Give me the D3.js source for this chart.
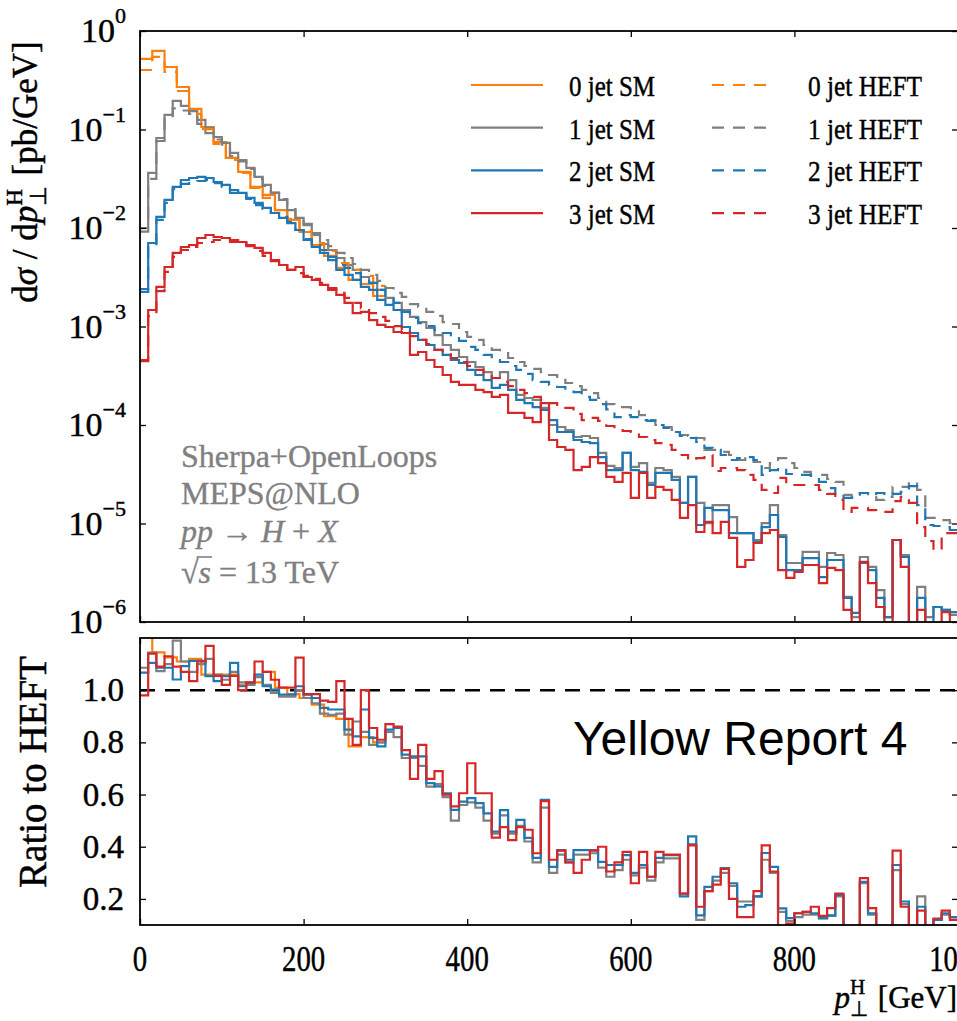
<!DOCTYPE html>
<html><head><meta charset="utf-8">
<script src="https://cdn.jsdelivr.net/npm/d3@7"></script>
<style>body{margin:0;background:#fff;}svg{display:block;}text{font-family:"Liberation Serif","Times New Roman",serif;}
.bold{stroke:#000;stroke-width:0.45px;}
.gbold{stroke:#808080;stroke-width:0.35px;}</style>
</head><body>
<svg id="chart" width="957" height="1021"></svg>
<script>
// ---------------- DATA ----------------
const binWidth0 = 15;   // GeV, 0-jet histograms
const binWidth = 10;    // GeV, 1/2/3-jet histograms
const xTicks = [0, 200, 400, 600, 800, 1000];
const yTickExp = [0, -1, -2, -3, -4, -5, -6];
const ratioTicks = [0.2, 0.4, 0.6, 0.8, 1.0];
const legendSM = ["0 jet SM", "1 jet SM", "2 jet SM", "3 jet SM"];
const legendHEFT = ["0 jet HEFT", "1 jet HEFT", "2 jet HEFT", "3 jet HEFT"];
const notes = ["Sherpa+OpenLoops", "MEPS@NLO"];

const sm0 = [0.52,0.627,0.431,0.270,0.162,0.106,0.0746,0.0514,0.0371,0.0261,0.0217,0.0152,0.0121,9.11e-3,6.72e-3,5.20e-3,3.93e-3,2.97e-3,2.70e-3,2.04e-3];
const heft0 = [0.402,0.545,0.384,0.246,0.144,0.101,0.0713,0.049,0.0362,0.0255,0.0202,0.0152,0.0124,9.32e-3,7.04e-3,5.85e-3,4.41e-3,3.75e-3,3.26e-3,2.58e-3];
const ratio0 = [1.3,1.145,1.126,1.11,1.12,1.06,1.06,1.06,1.02,1.03,1.07,1.01,0.985,0.97,0.945,0.90,0.89,0.785,0.82,0.80];

const sm1 = [1.00e-2,3.62e-2,8.20e-2,0.141,0.195,0.174,0.154,0.125,0.104,8.39e-2,
 7.30e-2,5.78e-2,4.90e-2,4.07e-2,3.30e-2,2.74e-2,2.27e-2,1.93e-2,1.52e-2,1.27e-2,
 1.07e-2,8.49e-3,6.88e-3,5.98e-3,4.96e-3,4.21e-3,3.75e-3,3.18e-3,2.77e-3,2.35e-3,
 1.95e-3,1.74e-3,1.47e-3,1.25e-3,1.11e-3,9.65e-4,8.19e-4,6.49e-4,5.78e-4,4.90e-4,
 4.36e-4,3.88e-4,3.45e-4,3.00e-4,3.45e-4,2.86e-4,2.02e-4,1.88e-4,1.80e-4,1.49e-4,
 1.00e-4,9.54e-5,8.90e-5,7.55e-5,7.73e-5,7.38e-5,5.20e-5,3.84e-5,3.66e-5,5.20e-5,
 3.75e-5,4.11e-5,2.58e-5,3.66e-5,3.49e-5,2.97e-5,1.62e-5,2.97e-5,1.62e-5,1.01e-5,
 1.54e-5,1.54e-5,1.16e-5,8.0e-6,8.0e-6,6.8e-6,1.01e-5,1.54e-5,7.64e-6,3.97e-6,
 3.97e-6,5.14e-6,5.14e-6,3.62e-6,5.02e-6,4.79e-6,1.80e-6,1.12e-6,4.57e-6,3.62e-6,
 2.11e-6,1.12e-6,6.8e-6,4.79e-6,6e-7,2.27e-6,1.12e-6,1.42e-6,1.33e-6,1.18e-6];
const heft1 = [9.2e-3,3.16e-2,7.64e-2,0.128,0.164,0.156,0.144,0.114,9.2e-2,7.92e-2,
 7.0e-2,5.38e-2,4.75e-2,3.97e-2,3.14e-2,2.67e-2,2.29e-2,1.97e-2,1.56e-2,1.27e-2,
 1.10e-2,8.9e-3,7.55e-3,6.56e-3,5.58e-3,4.96e-3,4.31e-3,3.75e-3,3.34e-3,2.90e-3,
 2.46e-3,2.19e-3,2.0e-3,1.69e-3,1.58e-3,1.41e-3,1.28e-3,1.11e-3,1.06e-3,8.79e-4,
 7.83e-4,7.30e-4,6.49e-4,5.78e-4,5.51e-4,4.79e-4,4.36e-4,3.97e-4,3.71e-4,3.45e-4,
 3.22e-4,3.0e-4,2.67e-4,2.48e-4,2.27e-4,2.11e-4,1.88e-4,1.63e-4,1.52e-4,1.52e-4,
 1.42e-4,1.26e-4,1.12e-4,1.0e-4,9.54e-5,8.9e-5,7.92e-5,7.73e-5,7.38e-5,5.58e-5,
 5.58e-5,5.33e-5,4.96e-5,4.41e-5,4.73e-5,4.21e-5,3.66e-5,4.11e-5,4.62e-5,4.11e-5,
 3.66e-5,3.34e-5,3.11e-5,3.11e-5,2.83e-5,2.64e-5,1.95e-5,1.86e-5,2.04e-5,1.86e-5,
 1.74e-5,1.86e-5,2.35e-5,2.35e-5,2.64e-5,2.19e-5,1.14e-5,1.14e-5,1.08e-5,1.01e-5];
const ratio1 = [1.086,1.144,1.073,1.10,1.19,1.11,1.07,1.10,1.12,1.06,
 1.04,1.07,1.03,1.02,1.05,1.02,0.99,0.975,0.975,1.0,
 0.97,0.95,0.91,0.905,0.91,0.83,0.88,0.84,0.79,0.80,
 0.84,0.82,0.74,0.74,0.71,0.63,0.64,0.59,0.50,0.56,
 0.57,0.55,0.50,0.45,0.52,0.45,0.48,0.42,0.34,0.55,
 0.30,0.37,0.34,0.37,0.37,0.375,0.32,0.285,0.31,0.35,
 0.29,0.32,0.27,0.34,0.355,0.355,0.22,0.41,0.12,0.23,
 0.27,0.30,0.25,0.19,0.19,0.21,0.35,0.30,0.15,0.115,
 0.13,0.14,0.14,0.125,0.135,0.21,0.08,0.08,0.26,0.14,
 0.08,0.08,0.31,0.18,0.08,0.21,0.08,0.12,0.14,0.13];

const sm2 = [2.40e-3,7.04e-3,1.30e-2,1.93e-2,2.61e-2,3.07e-2,3.22e-2,3.30e-2,3.22e-2,2.93e-2,
 2.74e-2,2.43e-2,2.27e-2,2.02e-2,1.80e-2,1.60e-2,1.42e-2,1.27e-2,1.12e-2,9.54e-3,
 7.55e-3,6.41e-3,5.58e-3,4.73e-3,3.75e-3,3.34e-3,2.97e-3,2.52e-3,2.35e-3,1.86e-3,
 1.66e-3,1.47e-3,9.88e-4,8.59e-4,7.30e-4,6.49e-4,5.78e-4,5.14e-4,4.57e-4,4.26e-4,
 3.62e-4,3.22e-4,2.86e-4,2.38e-4,2.55e-4,2.27e-4,1.80e-4,1.67e-4,1.52e-4,1.42e-4,
 1.12e-4,8.49e-5,8.49e-5,7.04e-5,6.72e-5,6.56e-5,4.73e-5,3.49e-5,3.49e-5,5.20e-5,
 3.49e-5,3.34e-5,2.46e-5,3.26e-5,3.26e-5,2.77e-5,1.62e-5,2.97e-5,9.65e-6,1.44e-5,
 1.37e-5,1.37e-5,8.0e-6,8.0e-6,8.0e-6,6.49e-6,9.2e-6,1.22e-5,7.30e-6,3.37e-6,
 3.37e-6,4.46e-6,4.46e-6,2.86e-6,4.26e-6,4.26e-6,1.76e-6,1.24e-6,3.97e-6,3.37e-6,
 1.76e-6,1.12e-6,6.8e-6,4.57e-6,6e-7,1.76e-6,6e-7,1.42e-6,1.33e-6,1.26e-6];
const heft2 = [2.24e-3,6.41e-3,1.21e-2,1.80e-2,2.48e-2,2.80e-2,2.93e-2,3.0e-2,3.07e-2,2.86e-2,
 2.61e-2,2.27e-2,2.22e-2,1.97e-2,1.71e-2,1.56e-2,1.42e-2,1.30e-2,1.15e-2,9.54e-3,
 7.73e-3,6.56e-3,5.98e-3,5.08e-3,4.21e-3,3.93e-3,3.49e-3,2.90e-3,2.77e-3,2.35e-3,
 2.0e-3,1.74e-3,1.41e-3,1.22e-3,1.08e-3,1.01e-3,9.2e-4,8.59e-4,7.83e-4,7.13e-4,
 6.20e-4,5.78e-4,5.14e-4,4.57e-4,4.36e-4,3.97e-4,3.62e-4,3.30e-4,2.86e-4,2.74e-4,
 2.55e-4,2.43e-4,2.27e-4,2.16e-4,1.93e-4,1.80e-4,1.63e-4,1.44e-4,1.20e-4,1.26e-4,
 1.20e-4,1.12e-4,1.10e-4,1.0e-4,9.32e-5,8.49e-5,7.73e-5,7.38e-5,6.72e-5,5.85e-5,
 5.58e-5,4.96e-5,4.41e-5,4.62e-5,4.73e-5,4.41e-5,3.11e-5,3.49e-5,3.66e-5,3.18e-5,
 3.11e-5,3.11e-5,3.04e-5,2.64e-5,2.29e-5,1.95e-5,1.82e-5,1.82e-5,2.04e-5,1.95e-5,
 2.04e-5,1.95e-5,2.0e-5,2.09e-5,2.40e-5,1.54e-5,9.65e-6,9.43e-6,9.2e-6,8.59e-6];
const ratio2 = [1.067,1.105,1.086,1.086,1.041,1.092,1.112,1.112,1.054,1.035,
 1.054,1.105,1.015,1.028,1.06,1.015,1.002,0.983,0.983,1.015,
 0.983,0.97,0.932,0.926,0.926,0.849,0.823,0.926,0.817,0.785,
 0.849,0.855,0.753,0.746,0.746,0.644,0.631,0.605,0.541,0.573,
 0.586,0.567,0.528,0.458,0.54,0.458,0.503,0.434,0.357,0.58,
 0.323,0.387,0.35,0.387,0.387,0.387,0.342,0.33,0.33,0.368,
 0.30,0.33,0.285,0.357,0.368,0.368,0.21,0.44,0.137,0.246,
 0.285,0.318,0.26,0.17,0.176,0.21,0.376,0.323,0.164,0.126,
 0.145,0.15,0.145,0.126,0.137,0.215,0.08,0.08,0.265,0.145,
 0.08,0.08,0.33,0.19,0.08,0.17,0.08,0.12,0.145,0.13];

const sm3 = [4.46e-4,1.47e-3,2.52e-3,4.02e-3,5.58e-3,6.41e-3,6.72e-3,7.92e-3,8.49e-3,8.10e-3,
 7.92e-3,7.55e-3,7.21e-3,6.72e-3,6.27e-3,5.58e-3,4.73e-3,4.21e-3,3.75e-3,4.02e-3,
 3.18e-3,2.97e-3,2.64e-3,2.35e-3,2.09e-3,1.74e-3,1.37e-3,1.41e-3,1.16e-3,1.04e-3,
 9.88e-4,8.79e-4,8.59e-4,5.14e-4,5.51e-4,4.57e-4,3.88e-4,3.22e-4,2.74e-4,2.55e-4,
 2.55e-4,2.27e-4,2.16e-4,1.93e-4,2.02e-4,1.33e-4,1.33e-4,1.18e-4,1.07e-4,1.67e-4,
 7.04e-5,5.98e-5,5.58e-5,3.49e-5,3.75e-5,4.73e-5,4.11e-5,2.97e-5,2.64e-5,3.26e-5,
 1.82e-5,3.26e-5,1.82e-5,2.35e-5,2.19e-5,1.74e-5,1.14e-5,1.54e-5,8.2e-6,1.04e-5,
 8.0e-6,1.04e-5,7.13e-6,3.62e-6,4.26e-6,6.34e-6,8.0e-6,8.59e-6,3.37e-6,2.80e-6,
 3.22e-6,3.79e-6,3.79e-6,2.48e-6,3.54e-6,3.37e-6,1.33e-6,6e-7,4.07e-6,2.48e-6,
 1.42e-6,6e-7,6.8e-6,3.62e-6,6e-7,1.33e-6,6e-7,6e-7,1.26e-6,9.3e-7];
const heft3 = [4.57e-4,1.28e-3,2.29e-3,3.58e-3,5.08e-3,5.98e-3,6.41e-3,7.04e-3,7.21e-3,7.55e-3,
 7.73e-3,7.21e-3,7.04e-3,6.56e-3,5.85e-3,5.20e-3,4.62e-3,4.21e-3,3.75e-3,3.49e-3,
 3.26e-3,3.04e-3,2.77e-3,2.46e-3,2.19e-3,1.95e-3,1.74e-3,1.54e-3,1.37e-3,1.25e-3,
 1.14e-3,1.01e-3,9.2e-4,8.0e-4,7.30e-4,6.64e-4,5.78e-4,5.38e-4,4.79e-4,4.36e-4,
 3.97e-4,3.62e-4,3.30e-4,3.0e-4,2.74e-4,2.48e-4,2.27e-4,2.11e-4,1.93e-4,1.80e-4,
 1.67e-4,1.60e-4,1.49e-4,1.30e-4,1.12e-4,1.18e-4,1.10e-4,9.77e-5,8.9e-5,8.69e-5,
 8.49e-5,7.55e-5,7.04e-5,6.56e-5,6.27e-5,5.58e-5,4.96e-5,4.41e-5,4.62e-5,4.96e-5,
 3.41e-5,3.66e-5,3.66e-5,3.49e-5,3.11e-5,2.77e-5,2.19e-5,2.04e-5,2.90e-5,2.46e-5,
 2.46e-5,2.46e-5,2.46e-5,2.19e-5,2.0e-5,1.74e-5,1.31e-5,1.44e-5,1.44e-5,1.37e-5,
 1.31e-5,1.31e-5,1.69e-5,1.86e-5,1.62e-5,9.2e-6,6.64e-6,5.38e-6,8.0e-6,8.0e-6];
const ratio3 = [0.98,1.14,1.09,1.13,1.09,1.07,1.035,1.11,1.17,1.055,
 1.02,1.055,1.0,1.03,1.11,1.07,1.04,1.01,1.01,1.125,
 0.985,0.985,0.96,0.955,1.035,0.89,0.79,1.0,0.855,0.81,
 0.87,0.86,0.77,0.66,0.79,0.66,0.69,0.6,0.555,0.605,
 0.72,0.605,0.605,0.435,0.475,0.425,0.475,0.465,0.375,0.575,
 0.35,0.385,0.34,0.3,0.35,0.385,0.4,0.305,0.34,0.38,
 0.26,0.38,0.285,0.38,0.37,0.37,0.22,0.405,0.17,0.23,
 0.255,0.315,0.2,0.13,0.13,0.23,0.405,0.305,0.08,0.105,
 0.145,0.15,0.17,0.135,0.165,0.22,0.08,0.08,0.28,0.165,
 0.08,0.08,0.385,0.17,0.08,0.155,0.08,0.125,0.155,0.12];

const colors = ["#ff7f0e", "#7f7f7f", "#1f77b4", "#d62728"];

// ---------------- LAYOUT ----------------
const svg = d3.select("#chart");
const L = 140, R = 958, T1 = 31, B1 = 622, T2 = 638, B2 = 925;
const x = d3.scaleLinear().domain([0, 1000]).range([L, R]);
const y = d3.scaleLog().domain([1e-6, 1]).range([B1, T1]);
const yr = d3.scaleLinear().domain([0.1, 1.2]).range([B2, T2]);

const defs = svg.append("defs");
defs.append("clipPath").attr("id", "c1").append("rect").attr("x", L).attr("y", T1).attr("width", R - L).attr("height", B1 - T1);
defs.append("clipPath").attr("id", "c2").append("rect").attr("x", L).attr("y", T2).attr("width", R - L).attr("height", B2 - T2);

function stepPath(vals, w, ys) {
  const pts = vals.map((v, i) => [i * w, v]);
  pts.push([vals.length * w, vals[vals.length - 1]]);
  return d3.line().x(d => x(d[0])).y(d => ys(d[1])).curve(d3.curveStepAfter)(pts);
}

const DASH = "12,9";
const LW = 2.2;
const g1 = svg.append("g").attr("clip-path", "url(#c1)");
const smSets = [[sm0, binWidth0], [sm1, binWidth], [sm2, binWidth], [sm3, binWidth]];
const heftSets = [[heft0, binWidth0], [heft1, binWidth], [heft2, binWidth], [heft3, binWidth]];
smSets.forEach((s, i) => g1.append("path").attr("d", stepPath(s[0], s[1], y)).attr("fill", "none")
  .attr("stroke", colors[i]).attr("stroke-width", LW));
heftSets.forEach((s, i) => g1.append("path").attr("d", stepPath(s[0], s[1], y)).attr("fill", "none")
  .attr("stroke", colors[i]).attr("stroke-width", LW).attr("stroke-dasharray", DASH));

const g2 = svg.append("g").attr("clip-path", "url(#c2)");
g2.append("line").attr("x1", L).attr("x2", R).attr("y1", yr(1)).attr("y2", yr(1))
  .attr("stroke", "#000").attr("stroke-width", 2.4).attr("stroke-dasharray", "15,10");
const rSets = [[ratio0, binWidth0], [ratio1, binWidth], [ratio2, binWidth], [ratio3, binWidth]];
rSets.forEach((s, i) => g2.append("path").attr("d", stepPath(s[0], s[1], yr)).attr("fill", "none")
  .attr("stroke", colors[i]).attr("stroke-width", LW));

// ---------------- AXES (inward ticks) ----------------
function ax(gen, tx, ty) {
  const g = svg.append("g").attr("transform", `translate(${tx},${ty})`).call(gen);
  g.select(".domain").remove();
  g.selectAll("line").attr("stroke", "#000").attr("stroke-width", 1.3);
  g.selectAll("text").remove();
}
const yTickVals = yTickExp.map(e => Math.pow(10, e));
ax(d3.axisBottom(x).tickValues(xTicks).tickSize(-6), 0, B1);
ax(d3.axisTop(x).tickValues(xTicks).tickSize(-6), 0, T1);
ax(d3.axisLeft(y).tickValues(yTickVals).tickSize(-6), L, 0);
ax(d3.axisRight(y).tickValues(yTickVals).tickSize(-6), R, 0);
ax(d3.axisBottom(x).tickValues(xTicks).tickSize(-6), 0, B2);
ax(d3.axisTop(x).tickValues(xTicks).tickSize(-6), 0, T2);
ax(d3.axisLeft(yr).tickValues(ratioTicks).tickSize(-6), L, 0);
ax(d3.axisRight(yr).tickValues(ratioTicks).tickSize(-6), R, 0);

[[T1, B1], [T2, B2]].forEach(([t, b]) => svg.append("rect").attr("x", L).attr("y", t)
  .attr("width", R - L).attr("height", b - t).attr("fill", "none").attr("stroke", "#000").attr("stroke-width", 1.8));

function squish(sel, f) {
  sel.each(function () { const w = this.getComputedTextLength(); d3.select(this).attr("textLength", w * f).attr("lengthAdjust", "spacingAndGlyphs"); });
}

// y tick labels (log)
yTickExp.forEach(e => {
  const t = svg.append("text").attr("class", "bold").attr("x", 126).attr("y", y(Math.pow(10, e)) + 11)
    .attr("text-anchor", "end").style("font-size", "34px").attr("fill", "#000");
  t.append("tspan").text("10");
  t.append("tspan").attr("dy", -19).style("font-size", "22px").text(e === 0 ? "0" : "\u2212" + (-e));
});
// ratio tick labels
ratioTicks.forEach(v => svg.append("text").attr("class", "bold").attr("x", 124).attr("y", yr(v) + 11).attr("text-anchor", "end")
  .style("font-size", "33px").text(d3.format(".1f")(v)));
// x tick labels
const xl = svg.selectAll("text.xtl").data(xTicks).enter().append("text").attr("class", "xtl bold")
  .attr("x", d => x(d)).attr("y", 971).attr("text-anchor", "middle").style("font-size", "36px").text(d => d);
squish(xl, 0.8);

// axis titles
const yt = svg.append("text").attr("class", "bold").attr("transform", "translate(37,172) rotate(-90)").attr("text-anchor", "middle").style("font-size", "35px");
yt.append("tspan").text("d");
yt.append("tspan").style("font-style", "italic").text("\u03c3");
yt.append("tspan").text(" / d");
yt.append("tspan").style("font-style", "italic").text("p");
yt.append("tspan").attr("dy", -15).style("font-size", "23px").text("H");
yt.append("tspan").attr("dx", -17).attr("dy", 24).style("font-size", "23px").text("\u22a5");
yt.append("tspan").attr("dy", -9).attr("dx", 2).text(" [pb/GeV]");

svg.append("text").attr("class", "bold").attr("transform", "translate(46,772) rotate(-90)").attr("text-anchor", "middle")
  .style("font-size", "39px").text("Ratio to HEFT");

const xt = svg.append("text").attr("class", "bold").attr("x", 957).attr("y", 1008).attr("text-anchor", "end").style("font-size", "31px");
xt.append("tspan").style("font-style", "italic").text("p");
xt.append("tspan").attr("dy", -14).style("font-size", "21px").text("H");
xt.append("tspan").attr("dx", -15).attr("dy", 22).style("font-size", "21px").text("\u22a5");
xt.append("tspan").attr("dy", -8).attr("dx", 2).text(" [GeV]");

// legend
const legY0 = 85, legDy = 42.7;
legendSM.forEach((lab, i) => {
  const yy = legY0 + i * legDy;
  svg.append("line").attr("x1", 471).attr("x2", 543).attr("y1", yy).attr("y2", yy).attr("stroke", colors[i]).attr("stroke-width", LW);
  svg.append("text").attr("class", "bold").attr("x", 569).attr("y", yy + 11).style("font-size", "30px")
    .attr("textLength", 86).attr("lengthAdjust", "spacingAndGlyphs").text(lab);
});
legendHEFT.forEach((lab, i) => {
  const yy = legY0 + i * legDy;
  svg.append("line").attr("x1", 712).attr("x2", 775).attr("y1", yy).attr("y2", yy).attr("stroke", colors[i])
    .attr("stroke-width", LW).attr("stroke-dasharray", DASH);
  svg.append("text").attr("class", "bold").attr("x", 808).attr("y", yy + 11).style("font-size", "30px")
    .attr("textLength", 114).attr("lengthAdjust", "spacingAndGlyphs").text(lab);
});

// annotation
const grey = "#808080";
notes.forEach((n, i) => svg.append("text").attr("class", "gbold").attr("x", 181).attr("y", 467 + i * 37)
  .attr("fill", grey).style("font-size", "32px").text(n));
const pp = svg.append("text").attr("class", "gbold").attr("x", 181).attr("y", 542).attr("fill", grey).style("font-size", "32px");
pp.append("tspan").style("font-style", "italic").text("pp");
pp.append("tspan").text(" \u2192 ");
pp.append("tspan").style("font-style", "italic").text("H");
pp.append("tspan").text(" + ");
pp.append("tspan").style("font-style", "italic").text("X");
const rs = svg.append("text").attr("class", "gbold").attr("x", 181).attr("y", 583).attr("fill", grey).style("font-size", "32px");
rs.append("tspan").text("\u221a");
rs.append("tspan").style("font-style", "italic").text("s");
rs.append("tspan").text(" = 13 TeV");
const rn = rs.node();
const wRad = rn.getSubStringLength(0, 1), wS = rn.getSubStringLength(1, 1);
svg.append("line").attr("x1", 181 + wRad - 2).attr("x2", 181 + wRad + wS + 1).attr("y1", 557).attr("y2", 557)
  .attr("stroke", grey).attr("stroke-width", 1.6);

svg.append("text").attr("x", 573).attr("y", 755).style("font-family", "'Liberation Sans', Arial, sans-serif")
  .style("font-size", "48px").attr("fill", "#000").text("Yellow Report 4");
</script>
</body></html>
